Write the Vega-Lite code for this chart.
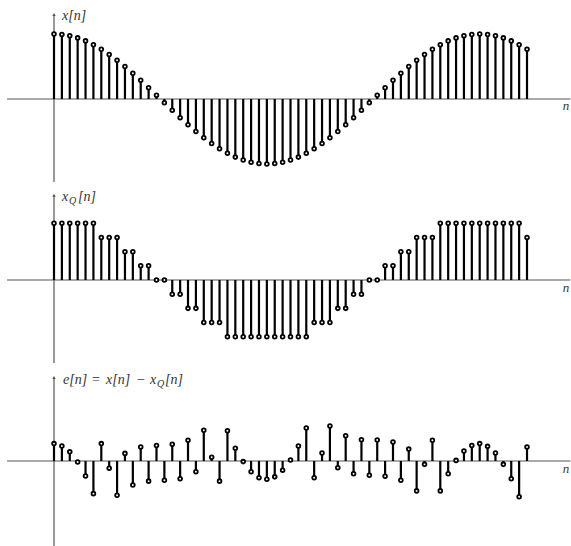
{
"$schema":"https://vega.github.io/schema/vega-lite/v6.json",
"padding":0,
"spacing":0,
"background":"white",
"config":{"view":{"stroke":null},"concat":{"spacing":0},"text":{"font":"Liberation Serif","fill":"#333"}},
"datasets":{"sig":[
{"n":0,"x":1.000,"xq":0.944,"e":0.057},
{"n":1,"x":0.993,"xq":0.944,"e":0.049},
{"n":2,"x":0.973,"xq":0.944,"e":0.030},
{"n":3,"x":0.940,"xq":0.944,"e":-0.003},
{"n":4,"x":0.894,"xq":0.944,"e":-0.049},
{"n":5,"x":0.835,"xq":0.944,"e":-0.107},
{"n":6,"x":0.766,"xq":0.708,"e":0.057},
{"n":7,"x":0.686,"xq":0.708,"e":-0.024},
{"n":8,"x":0.597,"xq":0.708,"e":-0.112},
{"n":9,"x":0.500,"xq":0.472,"e":0.025},
{"n":10,"x":0.396,"xq":0.472,"e":-0.079},
{"n":11,"x":0.287,"xq":0.236,"e":0.046},
{"n":12,"x":0.174,"xq":0.236,"e":-0.066},
{"n":13,"x":0.058,"xq":0,"e":0.051},
{"n":14,"x":-0.058,"xq":0,"e":-0.063},
{"n":15,"x":-0.174,"xq":-0.236,"e":0.055},
{"n":16,"x":-0.287,"xq":-0.236,"e":-0.058},
{"n":17,"x":-0.396,"xq":-0.472,"e":0.068},
{"n":18,"x":-0.500,"xq":-0.472,"e":-0.035},
{"n":19,"x":-0.597,"xq":-0.708,"e":0.101},
{"n":20,"x":-0.686,"xq":-0.708,"e":0.012},
{"n":21,"x":-0.766,"xq":-0.708,"e":-0.066},
{"n":22,"x":-0.835,"xq":-0.944,"e":0.099},
{"n":23,"x":-0.894,"xq":-0.944,"e":0.042},
{"n":24,"x":-0.940,"xq":-0.944,"e":-0.002},
{"n":25,"x":-0.973,"xq":-0.944,"e":-0.035},
{"n":26,"x":-0.993,"xq":-0.944,"e":-0.055},
{"n":27,"x":-1.000,"xq":-0.944,"e":-0.060},
{"n":28,"x":-0.993,"xq":-0.944,"e":-0.052},
{"n":29,"x":-0.973,"xq":-0.944,"e":-0.030},
{"n":30,"x":-0.940,"xq":-0.944,"e":0.003},
{"n":31,"x":-0.894,"xq":-0.944,"e":0.049},
{"n":32,"x":-0.835,"xq":-0.944,"e":0.108},
{"n":33,"x":-0.766,"xq":-0.708,"e":-0.055},
{"n":34,"x":-0.686,"xq":-0.708,"e":0.026},
{"n":35,"x":-0.597,"xq":-0.708,"e":0.115},
{"n":36,"x":-0.500,"xq":-0.472,"e":-0.022},
{"n":37,"x":-0.396,"xq":-0.472,"e":0.083},
{"n":38,"x":-0.287,"xq":-0.236,"e":-0.042},
{"n":39,"x":-0.174,"xq":-0.236,"e":0.070},
{"n":40,"x":-0.058,"xq":0,"e":-0.047},
{"n":41,"x":0.058,"xq":0,"e":0.069},
{"n":42,"x":0.174,"xq":0.236,"e":-0.050},
{"n":43,"x":0.287,"xq":0.236,"e":0.062},
{"n":44,"x":0.396,"xq":0.472,"e":-0.063},
{"n":45,"x":0.500,"xq":0.472,"e":0.039},
{"n":46,"x":0.597,"xq":0.708,"e":-0.098},
{"n":47,"x":0.686,"xq":0.708,"e":-0.011},
{"n":48,"x":0.766,"xq":0.708,"e":0.068},
{"n":49,"x":0.835,"xq":0.944,"e":-0.098},
{"n":50,"x":0.894,"xq":0.944,"e":-0.042},
{"n":51,"x":0.940,"xq":0.944,"e":0.002},
{"n":52,"x":0.973,"xq":0.944,"e":0.033},
{"n":53,"x":0.993,"xq":0.944,"e":0.051},
{"n":54,"x":1.000,"xq":0.944,"e":0.057},
{"n":55,"x":0.993,"xq":0.944,"e":0.048},
{"n":56,"x":0.973,"xq":0.944,"e":0.026},
{"n":57,"x":0.940,"xq":0.944,"e":-0.011},
{"n":58,"x":0.894,"xq":0.944,"e":-0.058},
{"n":59,"x":0.835,"xq":0.944,"e":-0.117},
{"n":60,"x":0.766,"xq":0.708,"e":0.046}
]},
"vconcat":[
{"width":571,"height":182,
"layer":[
{"data":{"values":[{}]},"mark":{"type":"rule","color":"#555","strokeWidth":1.2},
"encoding":{"x":{"datum":-5.96,"type":"quantitative","scale":{"domain":[-6.85,65.58],"nice":false,"zero":false},"axis":null},"x2":{"datum":65.5},
"y":{"datum":0,"type":"quantitative","scale":{"domain":[-1.277,1.523],"nice":false,"zero":false},"axis":null}}},
{"data":{"values":[{}]},"mark":{"type":"rule","color":"#555","strokeWidth":1.2},
"encoding":{"x":{"datum":0,"type":"quantitative","scale":{"domain":[-6.85,65.58],"nice":false,"zero":false},"axis":null},
"y":{"datum":-1.277,"type":"quantitative","scale":{"domain":[-1.277,1.523],"nice":false,"zero":false},"axis":null},"y2":{"datum":1.30}}},
{"data":{"values":[{}]},"mark":{"type":"point","shape":"triangle-up","filled":true,"color":"#555","size":12,"opacity":1},
"encoding":{"x":{"datum":0,"type":"quantitative","scale":{"domain":[-6.85,65.58],"nice":false,"zero":false},"axis":null},
"y":{"datum":1.30,"type":"quantitative","scale":{"domain":[-1.277,1.523],"nice":false,"zero":false},"axis":null}}},
{"data":{"name":"sig"},"mark":{"type":"rule","color":"black","strokeWidth":2.2},
"encoding":{"x":{"field":"n","type":"quantitative","scale":{"domain":[-6.85,65.58],"nice":false,"zero":false},"axis":null},
"y":{"field":"x","type":"quantitative","scale":{"domain":[-1.277,1.523],"nice":false,"zero":false},"axis":null},"y2":{"datum":0}}},
{"data":{"name":"sig"},"mark":{"type":"point","shape":"circle","filled":true,"fill":"white","stroke":"black","strokeWidth":1.8,"size":14,"opacity":1},
"encoding":{"x":{"field":"n","type":"quantitative","scale":{"domain":[-6.85,65.58],"nice":false,"zero":false},"axis":null},
"y":{"field":"x","type":"quantitative","scale":{"domain":[-1.277,1.523],"nice":false,"zero":false},"axis":null}}},
{"data":{"values":[{}]},"mark":{"type":"text","text":"x[n]","align":"left","baseline":"middle","fontStyle":"italic","fontSize":14},
"encoding":{"x":{"datum":1.015,"type":"quantitative","scale":{"domain":[-6.85,65.58],"nice":false,"zero":false},"axis":null},
"y":{"datum":1.277,"type":"quantitative","scale":{"domain":[-1.277,1.523],"nice":false,"zero":false},"axis":null}}},
{"data":{"values":[{}]},"mark":{"type":"text","text":"n","align":"center","baseline":"middle","fontStyle":"italic","fontSize":13},
"encoding":{"x":{"datum":64.95,"type":"quantitative","scale":{"domain":[-6.85,65.58],"nice":false,"zero":false},"axis":null},
"y":{"datum":-0.115,"type":"quantitative","scale":{"domain":[-1.277,1.523],"nice":false,"zero":false},"axis":null}}}
]},
{"width":571,"height":182,
"layer":[
{"data":{"values":[{}]},"mark":{"type":"rule","color":"#555","strokeWidth":1.2},
"encoding":{"x":{"datum":-5.96,"type":"quantitative","scale":{"domain":[-6.85,65.58],"nice":false,"zero":false},"axis":null},"x2":{"datum":65.5},
"y":{"datum":0,"type":"quantitative","scale":{"domain":[-1.415,1.615],"nice":false,"zero":false},"axis":null}}},
{"data":{"values":[{}]},"mark":{"type":"rule","color":"#555","strokeWidth":1.2},
"encoding":{"x":{"datum":0,"type":"quantitative","scale":{"domain":[-6.85,65.58],"nice":false,"zero":false},"axis":null},
"y":{"datum":-1.382,"type":"quantitative","scale":{"domain":[-1.415,1.615],"nice":false,"zero":false},"axis":null},"y2":{"datum":1.41}}},
{"data":{"values":[{}]},"mark":{"type":"point","shape":"triangle-up","filled":true,"color":"#555","size":12,"opacity":1},
"encoding":{"x":{"datum":0,"type":"quantitative","scale":{"domain":[-6.85,65.58],"nice":false,"zero":false},"axis":null},
"y":{"datum":1.41,"type":"quantitative","scale":{"domain":[-1.415,1.615],"nice":false,"zero":false},"axis":null}}},
{"data":{"name":"sig"},"mark":{"type":"rule","color":"black","strokeWidth":2.2},
"encoding":{"x":{"field":"n","type":"quantitative","scale":{"domain":[-6.85,65.58],"nice":false,"zero":false},"axis":null},
"y":{"field":"xq","type":"quantitative","scale":{"domain":[-1.415,1.615],"nice":false,"zero":false},"axis":null},"y2":{"datum":0}}},
{"data":{"name":"sig"},"mark":{"type":"point","shape":"circle","filled":true,"fill":"white","stroke":"black","strokeWidth":1.8,"size":14,"opacity":1},
"encoding":{"x":{"field":"n","type":"quantitative","scale":{"domain":[-6.85,65.58],"nice":false,"zero":false},"axis":null},
"y":{"field":"xq","type":"quantitative","scale":{"domain":[-1.415,1.615],"nice":false,"zero":false},"axis":null}}},
{"data":{"values":[{}]},"mark":{"type":"text","text":"x","align":"left","baseline":"middle","fontStyle":"italic","fontSize":14},
"encoding":{"x":{"datum":1.015,"type":"quantitative","scale":{"domain":[-6.85,65.58],"nice":false,"zero":false},"axis":null},
"y":{"datum":1.382,"type":"quantitative","scale":{"domain":[-1.415,1.615],"nice":false,"zero":false},"axis":null}}},
{"data":{"values":[{}]},"mark":{"type":"text","text":"Q","align":"left","baseline":"middle","dx":7,"dy":4,"fontStyle":"italic","fontSize":10},
"encoding":{"x":{"datum":1.015,"type":"quantitative","scale":{"domain":[-6.85,65.58],"nice":false,"zero":false},"axis":null},
"y":{"datum":1.382,"type":"quantitative","scale":{"domain":[-1.415,1.615],"nice":false,"zero":false},"axis":null}}},
{"data":{"values":[{}]},"mark":{"type":"text","text":"[n]","align":"left","baseline":"middle","dx":16,"fontStyle":"italic","fontSize":14},
"encoding":{"x":{"datum":1.015,"type":"quantitative","scale":{"domain":[-6.85,65.58],"nice":false,"zero":false},"axis":null},
"y":{"datum":1.382,"type":"quantitative","scale":{"domain":[-1.415,1.615],"nice":false,"zero":false},"axis":null}}},
{"data":{"values":[{}]},"mark":{"type":"text","text":"n","align":"center","baseline":"middle","fontStyle":"italic","fontSize":13},
"encoding":{"x":{"datum":64.95,"type":"quantitative","scale":{"domain":[-6.85,65.58],"nice":false,"zero":false},"axis":null},
"y":{"datum":-0.133,"type":"quantitative","scale":{"domain":[-1.415,1.615],"nice":false,"zero":false},"axis":null}}}
]},
{"width":571,"height":182,
"layer":[
{"data":{"values":[{}]},"mark":{"type":"rule","color":"#555","strokeWidth":1.2},
"encoding":{"x":{"datum":-5.96,"type":"quantitative","scale":{"domain":[-6.85,65.58],"nice":false,"zero":false},"axis":null},"x2":{"datum":65.5},
"y":{"datum":0,"type":"quantitative","scale":{"domain":[-0.282,0.3148],"nice":false,"zero":false},"axis":null}}},
{"data":{"values":[{}]},"mark":{"type":"rule","color":"#555","strokeWidth":1.2},
"encoding":{"x":{"datum":0,"type":"quantitative","scale":{"domain":[-6.85,65.58],"nice":false,"zero":false},"axis":null},
"y":{"datum":-0.282,"type":"quantitative","scale":{"domain":[-0.282,0.3148],"nice":false,"zero":false},"axis":null},"y2":{"datum":0.274}}},
{"data":{"values":[{}]},"mark":{"type":"point","shape":"triangle-up","filled":true,"color":"#555","size":12,"opacity":1},
"encoding":{"x":{"datum":0,"type":"quantitative","scale":{"domain":[-6.85,65.58],"nice":false,"zero":false},"axis":null},
"y":{"datum":0.274,"type":"quantitative","scale":{"domain":[-0.282,0.3148],"nice":false,"zero":false},"axis":null}}},
{"data":{"name":"sig"},"mark":{"type":"rule","color":"black","strokeWidth":2.2},
"encoding":{"x":{"field":"n","type":"quantitative","scale":{"domain":[-6.85,65.58],"nice":false,"zero":false},"axis":null},
"y":{"field":"e","type":"quantitative","scale":{"domain":[-0.282,0.3148],"nice":false,"zero":false},"axis":null},"y2":{"datum":0}}},
{"data":{"name":"sig"},"mark":{"type":"point","shape":"circle","filled":true,"fill":"white","stroke":"black","strokeWidth":1.8,"size":14,"opacity":1},
"encoding":{"x":{"field":"n","type":"quantitative","scale":{"domain":[-6.85,65.58],"nice":false,"zero":false},"axis":null},
"y":{"field":"e","type":"quantitative","scale":{"domain":[-0.282,0.3148],"nice":false,"zero":false},"axis":null}}},
{"data":{"values":[{}]},"mark":{"type":"text","text":"e[n]","align":"left","baseline":"middle","fontStyle":"italic","fontSize":14},
"encoding":{"x":{"datum":1.142,"type":"quantitative","scale":{"domain":[-6.85,65.58],"nice":false,"zero":false},"axis":null},
"y":{"datum":0.2656,"type":"quantitative","scale":{"domain":[-0.282,0.3148],"nice":false,"zero":false},"axis":null}}},
{"data":{"values":[{}]},"mark":{"type":"text","text":"=","align":"left","baseline":"middle","dx":29,"fontSize":14},
"encoding":{"x":{"datum":1.142,"type":"quantitative","scale":{"domain":[-6.85,65.58],"nice":false,"zero":false},"axis":null},
"y":{"datum":0.2656,"type":"quantitative","scale":{"domain":[-0.282,0.3148],"nice":false,"zero":false},"axis":null}}},
{"data":{"values":[{}]},"mark":{"type":"text","text":"x[n]","align":"left","baseline":"middle","dx":43,"fontStyle":"italic","fontSize":14},
"encoding":{"x":{"datum":1.142,"type":"quantitative","scale":{"domain":[-6.85,65.58],"nice":false,"zero":false},"axis":null},
"y":{"datum":0.2656,"type":"quantitative","scale":{"domain":[-0.282,0.3148],"nice":false,"zero":false},"axis":null}}},
{"data":{"values":[{}]},"mark":{"type":"text","text":"−","align":"left","baseline":"middle","dx":74,"fontSize":14},
"encoding":{"x":{"datum":1.142,"type":"quantitative","scale":{"domain":[-6.85,65.58],"nice":false,"zero":false},"axis":null},
"y":{"datum":0.2656,"type":"quantitative","scale":{"domain":[-0.282,0.3148],"nice":false,"zero":false},"axis":null}}},
{"data":{"values":[{}]},"mark":{"type":"text","text":"x","align":"left","baseline":"middle","dx":87,"fontStyle":"italic","fontSize":14},
"encoding":{"x":{"datum":1.142,"type":"quantitative","scale":{"domain":[-6.85,65.58],"nice":false,"zero":false},"axis":null},
"y":{"datum":0.2656,"type":"quantitative","scale":{"domain":[-0.282,0.3148],"nice":false,"zero":false},"axis":null}}},
{"data":{"values":[{}]},"mark":{"type":"text","text":"Q","align":"left","baseline":"middle","dx":94,"dy":4,"fontStyle":"italic","fontSize":10},
"encoding":{"x":{"datum":1.142,"type":"quantitative","scale":{"domain":[-6.85,65.58],"nice":false,"zero":false},"axis":null},
"y":{"datum":0.2656,"type":"quantitative","scale":{"domain":[-0.282,0.3148],"nice":false,"zero":false},"axis":null}}},
{"data":{"values":[{}]},"mark":{"type":"text","text":"[n]","align":"left","baseline":"middle","dx":102,"fontStyle":"italic","fontSize":14},
"encoding":{"x":{"datum":1.142,"type":"quantitative","scale":{"domain":[-6.85,65.58],"nice":false,"zero":false},"axis":null},
"y":{"datum":0.2656,"type":"quantitative","scale":{"domain":[-0.282,0.3148],"nice":false,"zero":false},"axis":null}}},
{"data":{"values":[{}]},"mark":{"type":"text","text":"n","align":"center","baseline":"middle","fontStyle":"italic","fontSize":13},
"encoding":{"x":{"datum":64.95,"type":"quantitative","scale":{"domain":[-6.85,65.58],"nice":false,"zero":false},"axis":null},
"y":{"datum":-0.026,"type":"quantitative","scale":{"domain":[-0.282,0.3148],"nice":false,"zero":false},"axis":null}}}
]}
]
}
